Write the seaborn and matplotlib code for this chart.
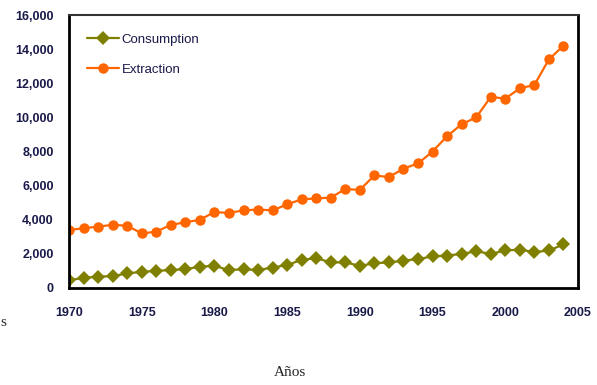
import matplotlib

matplotlib.use("Agg")
import matplotlib.pyplot as plt
import matplotlib.ticker as mticker
import pandas as pd
import seaborn as sns

sns.set_style("white")
plt.rcParams["font.family"] = ["Liberation Sans Narrow", "Liberation Sans", "DejaVu Sans"]

years = list(range(1970, 2005))
consumption = [450, 600, 660, 700, 850, 950, 1000, 1060, 1100, 1250,
               1300, 1050, 1100, 1050, 1200, 1350, 1650, 1750, 1500, 1500,
               1300, 1450, 1500, 1600, 1700, 1850, 1900, 2000, 2150, 2000,
               2200, 2250, 2100, 2200, 2550]
extraction = [3400, 3500, 3600, 3700, 3650, 3200, 3300, 3700, 3850, 4000,
              4450, 4400, 4550, 4600, 4550, 4900, 5200, 5250, 5300, 5800,
              5750, 6600, 6500, 7000, 7300, 8000, 8900, 9600, 10000, 11200,
              11100, 11700, 11900, 13400, 14200]

df = pd.DataFrame({"year": years, "Consumption": consumption, "Extraction": extraction})
long = df.melt(id_vars="year", var_name="series", value_name="value")

fig = plt.figure(figsize=(5.97, 3.85), dpi=100)
ax = fig.add_axes([69 / 597, 1 - 288 / 385, 509 / 597, 273 / 385])

sns.lineplot(data=long, x="year", y="value", hue="series", style="series",
             palette={"Consumption": "#808000", "Extraction": "#FF6600"},
             markers={"Consumption": "D", "Extraction": "o"}, dashes=False,
             markersize=7.5, markeredgewidth=0, linewidth=1.6, ax=ax)

ax.set_xlim(1970, 2005)
ax.set_ylim(0, 16000)
ax.xaxis.set_major_locator(mticker.MultipleLocator(5))
ax.xaxis.set_minor_locator(mticker.MultipleLocator(1))
ax.yaxis.set_major_locator(mticker.MultipleLocator(2000))
ax.yaxis.set_major_formatter(mticker.StrMethodFormatter("{x:,.0f}"))
ax.tick_params(axis="x", which="both", direction="in", length=5, width=1.5,
               pad=14, labelsize=9, labelcolor="#1a1a4a")
ax.tick_params(axis="y", which="major", direction="in", length=5, width=1.5,
               pad=11, labelsize=9, labelcolor="#1a1a4a")
ax.tick_params(axis="y", which="minor", length=0)
for lbl in ax.get_xticklabels() + ax.get_yticklabels():
    lbl.set_fontweight("bold")
for side in ["left", "bottom", "right"]:
    ax.spines[side].set_linewidth(2)
    ax.spines[side].set_color("black")
ax.spines["top"].set_linewidth(1.5)
ax.spines["top"].set_color("#333333")
ax.set_xlabel("")
ax.set_ylabel("")

leg = ax.legend(loc="upper left", frameon=False, fontsize=9.5, handlelength=2.4,
                handletextpad=0.2, labelspacing=1.35, borderaxespad=1.0)
for t in leg.get_texts():
    t.set_color("#1a1a4a")

fig.text(290 / 597, 1 - 372 / 385, "Años", family="Liberation Serif",
         fontsize=11, ha="center", va="center")
fig.text(0.5 / 597, 1 - 323 / 385, "s", family="Liberation Serif",
         fontsize=11, ha="left", va="center")

fig.savefig("out.png", dpi=100)
